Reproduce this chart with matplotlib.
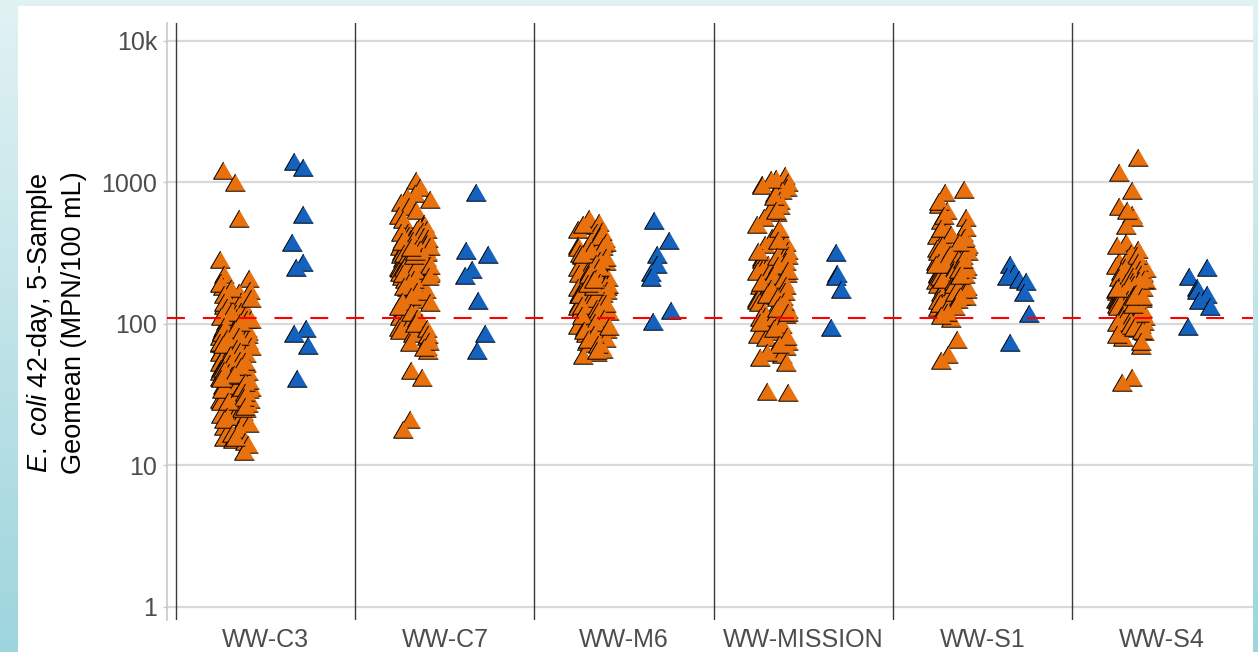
# E. coli 42-day geomean by site, jittered strip plot on log axis
import numpy as np
import matplotlib.pyplot as plt
from matplotlib.patches import Rectangle

plt.rcParams['font.family'] = ['Liberation Sans', 'DejaVu Sans']
plt.rcParams['mathtext.fontset'] = 'custom'
plt.rcParams['mathtext.it'] = 'Liberation Sans:italic'
plt.rcParams['mathtext.rm'] = 'Liberation Sans'

sites = ['WW-C3', 'WW-C7', 'WW-M6', 'WW-MISSION', 'WW-S1', 'WW-S4']

# orange series (many samples per site)
c3_orange = [1150, 960, 530, 270, 212, 200, 188, 176, 165, 158, 150, 143, 138, 132, 128,
             121, 117, 113, 110, 106, 103, 100, 98, 96, 95, 93, 91, 90, 89, 88, 88, 86, 85,
             84, 84, 83, 82, 80, 80, 79, 78, 77, 76, 74, 73, 72, 70, 69, 67, 66, 65, 63, 62,
             60, 59, 58, 56, 55, 54, 52, 51, 50, 49, 48, 47, 47, 46, 45, 44, 44, 43, 42, 41,
             40, 40, 39, 38, 37, 36, 36, 35, 34, 33, 32, 31, 30, 29, 28, 27, 26, 25, 24, 23,
             23, 22, 21, 20, 19, 18, 17, 15, 14.5, 14, 13.5, 12,
             185, 170, 155, 145, 135, 125, 115, 108, 102, 97, 92, 87, 83, 78, 75, 71, 68, 64,
             61, 57, 53, 50, 46, 43, 41, 38, 35, 33, 30, 28, 26, 24, 22, 52, 48, 45, 42, 39,
             37, 34, 31, 29, 27, 25, 21, 20, 16, 15]
c7_orange = [985, 880, 800, 760, 720, 690, 640, 600, 560, 520, 490, 470, 455, 440, 430, 420,
             410, 400, 392, 385, 378, 370, 365, 360, 355, 350, 345, 340, 336, 332, 328, 324,
             320, 316, 312, 308, 305, 300, 296, 292, 288, 284, 280, 276, 272, 268, 264, 260,
             256, 252, 248, 244, 240, 235, 230, 225, 220, 215, 210, 205, 200, 195, 190, 184,
             178, 172, 166, 160, 154, 148, 142, 136, 130, 125, 120, 116, 112, 108, 104, 100,
             97, 94, 90, 86, 82, 78, 74, 70, 66, 62, 45, 40, 20, 17,
             445, 425, 405, 395, 380, 372, 362, 352, 342, 334, 326, 318, 310, 302, 294, 286,
             278, 270, 262, 254, 246, 238, 228, 218, 208, 198, 186, 175, 162, 150, 138, 127,
             115, 105, 96, 88, 80, 72, 65, 290, 310, 330]
m6_orange = [530, 495, 470, 445, 420, 400, 385, 370, 355, 340, 330, 320, 310, 300, 292, 285,
             278, 270, 263, 256, 250, 244, 238, 232, 227, 222, 218, 214, 210, 206, 202, 199,
             196, 193, 190, 187, 184, 181, 178, 176, 174, 172, 170, 168, 166, 164, 162, 160,
             158, 156, 154, 152, 150, 147, 144, 141, 138, 135, 132, 129, 126, 123, 120, 117,
             114, 111, 108, 105, 102, 99, 96, 93, 90, 87, 84, 81, 78, 75, 72, 69, 66, 63, 60, 57,
             480, 430, 395, 360, 335, 315, 296, 282, 268, 254, 240, 226, 212, 200, 194, 188,
             182, 177, 173, 169, 165, 161, 157, 153, 149, 145, 140, 134, 128, 122, 116, 110,
             104, 98, 92, 86, 80, 74, 68, 62, 175, 185, 195]
mission_orange = [1060, 1010, 960, 920, 880, 840, 800, 710, 650, 620, 580, 540, 480, 430, 390,
                  360, 345, 330, 315, 300, 290, 280, 270, 260, 250, 240, 232, 225, 218, 212,
                  206, 200, 195, 190, 185, 181, 178, 175, 172, 168, 164, 160, 156, 152, 148,
                  144, 140, 136, 132, 128, 124, 120, 116, 112, 108, 104, 100, 95, 90, 85, 80,
                  76, 72, 66, 62, 58, 51, 32, 31,
                  1000, 900, 760, 600, 450, 370, 310, 285, 265, 245, 228, 210, 198, 188, 179,
                  170, 162, 154, 146, 138, 130, 122, 114, 106, 98, 88, 78, 68, 60, 55]
s1_orange = [850, 810, 670, 600, 540, 510, 480, 460, 440, 420, 405, 390, 378, 366, 355, 345,
             336, 328, 320, 312, 305, 298, 292, 286, 280, 274, 268, 262, 257, 252, 247, 242,
             237, 232, 228, 224, 220, 216, 212, 208, 204, 200, 196, 192, 188, 184, 180, 176,
             172, 168, 164, 160, 156, 152, 148, 144, 140, 136, 132, 128, 124, 118, 112, 104,
             74, 58, 53,
             700, 560, 450, 410, 385, 360, 340, 324, 308, 295, 283, 271, 259, 249, 239, 230,
             222, 214, 206, 198, 190, 182, 174, 166, 158, 150, 142, 134, 126, 120, 115, 110,
             250, 270, 230, 210]
s4_orange = [1430, 1120, 830, 640, 570, 540, 470, 360, 320, 300, 282, 265, 250, 242, 235, 228,
             222, 216, 210, 205, 200, 196, 192, 188, 184, 180, 176, 172, 168, 165, 162, 159,
             156, 153, 150, 147, 144, 141, 138, 135, 132, 129, 126, 123, 120, 118, 116, 114,
             112, 110, 108, 106, 104, 102, 100, 98, 95, 92, 88, 84, 76, 67, 40, 37,
             600, 340, 290, 258, 245, 238, 231, 225, 219, 213, 207, 202, 198, 194, 190, 186,
             182, 178, 174, 170, 166, 163, 160, 157, 154, 151, 148, 145, 142, 139, 136, 133,
             130, 127, 124, 121, 117, 113, 109, 105, 101, 97, 93, 90, 86, 80, 72, 130, 150, 170]

# blue series (few samples per site)
c3_blue = [1350, 1220, 570, 360, 260, 240, 88, 81, 67, 39]
c7_blue = [810, 315, 295, 232, 209, 140, 81, 62]
m6_blue = [510, 370, 297, 252, 220, 203, 118, 100]
mission_blue = [305, 215, 205, 168, 90]
s1_blue = [250, 215, 205, 195, 190, 158, 113, 71]
s4_blue = [240, 205, 172, 165, 155, 140, 127, 92]

orange_data = [c3_orange, c7_orange, m6_orange, mission_orange, s1_orange, s4_orange]
blue_data = [c3_blue, c7_blue, m6_blue, mission_blue, s1_blue, s4_blue]

threshold = 110
yticks = [1, 10, 100, 1000, 10000]
ytick_labels = ['1', '10', '100', '1000', '10k']

W, H = 1258, 652
fig = plt.figure(figsize=(W / 100, H / 100), dpi=100)

# cyan gradient frame behind a white panel
bg = fig.add_axes([0, 0, 1, 1], zorder=-10)
top = np.array([225, 242, 243]) / 255
bot = np.array([158, 213, 221]) / 255
t = np.linspace(0, 1, 200)[:, None]
grad = top[None, :] * (1 - t) + bot[None, :] * t
bg.imshow(grad[:, None, :], aspect='auto', extent=[0, 1, 0, 1])
bg.axis('off')
fig.patches.append(Rectangle((18 / W, 0), (1253 - 18) / W, (H - 6) / H,
                             transform=fig.transFigure, facecolor='white',
                             edgecolor='none', zorder=-5))

ax = fig.add_axes([167 / W, 32 / H, (1253 - 167) / W, 597 / H])
ax.set_facecolor('white')

tri = [(0, 0.577), (-0.5, -0.289), (0.5, -0.289)]
rng = np.random.default_rng(11)
for i in range(len(sites)):
    xo = i - 0.17 + rng.uniform(-0.09, 0.09, len(orange_data[i]))
    ax.scatter(xo, orange_data[i], marker=tri, s=270, facecolor='#E8710E',
               edgecolor='black', linewidth=0.7, zorder=3)
    xb = i + 0.19 + rng.uniform(-0.08, 0.08, len(blue_data[i]))
    ax.scatter(xb, blue_data[i], marker=tri, s=270, facecolor='#1462BE',
               edgecolor='black', linewidth=0.7, zorder=3)

for b in np.arange(len(sites)) - 0.5:
    ax.axvline(b, color='#3a3a3a', lw=1.0, zorder=1)

ax.axhline(threshold, color='red', lw=1.5, dashes=(8.6, 8.6), zorder=5)

ax.set_yscale('log')
ax.set_ylim(0.803, 13300)
ax.set_xlim(-0.551, 5.51)
ax.set_yticks(yticks)
ax.set_yticklabels(ytick_labels)
ax.minorticks_off()
ax.set_xticks(range(len(sites)))
ax.set_xticklabels(sites)
ax.yaxis.grid(True, color='#d9d9d9', lw=1.6, zorder=0)
ax.set_axisbelow(True)
ax.tick_params(axis='y', length=3, width=1, color='#c8c8c8', pad=4,
               labelsize=18, labelcolor='#4d4d4d')
ax.tick_params(axis='x', length=0, pad=6, labelsize=18, labelcolor='#4d4d4d')
for s in ['top', 'right', 'bottom']:
    ax.spines[s].set_visible(False)
ax.spines['left'].set_color('#c8c8c8')
ax.spines['left'].set_linewidth(1.2)

fig.text(56 / W, 0.505, '$\\mathit{E.\\ coli}$ 42-day, 5-Sample\nGeomean (MPN/100 mL)',
         rotation=90, ha='center', va='center', multialignment='center',
         fontsize=19.5, linespacing=1.3, color='black')

fig.savefig('out.png', dpi=100)
